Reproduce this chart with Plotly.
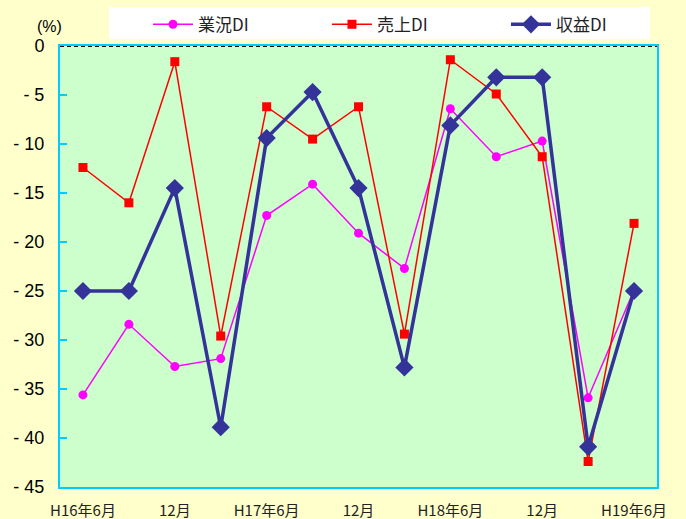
import plotly.graph_objects as go

# quarterly survey periods (H16.6 - H19.6)
periods = ["H16.6", "H16.9", "H16.12", "H17.3", "H17.6", "H17.9", "H17.12",
           "H18.3", "H18.6", "H18.9", "H18.12", "H19.3", "H19.6"]
period_labels = ["H16年6月", "", "12月", "", "H17年6月", "", "12月",
                 "", "H18年6月", "", "12月", "", "H19年6月"]

gyokyo_di = [-35.6, -28.4, -32.7, -31.9, -17.3, -14.1, -19.1,
             -22.7, -6.4, -11.3, -9.7, -35.9, -24.9]
uriage_di = [-12.4, -16.0, -1.6, -29.6, -6.2, -9.5, -6.2,
             -29.4, -1.4, -4.9, -11.3, -42.4, -18.1]
shueki_di = [-25.0, -25.0, -14.5, -38.9, -9.4, -4.7, -14.5,
             -32.8, -8.1, -3.2, -3.2, -40.9, -25.0]

y_ticks = [0, -5, -10, -15, -20, -25, -30, -35, -40, -45]
y_labels = ["0" if v == 0 else f"- {abs(v)}" for v in y_ticks]

axis_color = "#00CCFF"
jp_font = "Noto Sans CJK JP"

fig = go.Figure()

fig.add_trace(go.Scatter(
    x=periods, y=gyokyo_di, name="業況DI", mode="lines+markers",
    line=dict(color="#FF00FF", width=1.5),
    marker=dict(symbol="circle", size=9, color="#FF00FF"),
))
fig.add_trace(go.Scatter(
    x=periods, y=uriage_di, name="売上DI", mode="lines+markers",
    line=dict(color="#FF0000", width=1.5),
    marker=dict(symbol="square", size=9, color="#FF0000"),
))
fig.add_trace(go.Scatter(
    x=periods, y=shueki_di, name="収益DI", mode="lines+markers",
    line=dict(color="#333399", width=3.5),
    marker=dict(symbol="diamond", size=14, color="#333399"),
))

# dashed zero line on top edge
fig.add_shape(type="line", xref="paper", yref="y", x0=0, x1=1, y0=0, y1=0,
              line=dict(color="black", width=2, dash="4px,3px"))

# white box behind the legend
fig.add_shape(type="rect", xref="paper", yref="paper",
              x0=0.0821, x1=0.9883, y0=1.0159, y1=1.0884,
              fillcolor="white", line=dict(width=0))

fig.add_annotation(text="(%)", xref="paper", yref="paper", x=-0.017, y=1.045,
                   xanchor="center", yanchor="middle", showarrow=False,
                   font=dict(family="Liberation Sans", size=16, color="black"))

fig.update_layout(
    width=686, height=519,
    paper_bgcolor="#FFFFCC",
    plot_bgcolor="#CCFFCC",
    margin=dict(l=60, r=29, t=46, b=32, autoexpand=False),
    font=dict(family=jp_font, color="black"),
    legend=dict(
        orientation="h", x=0.2157, y=0.987, xref="container", yref="container",
        xanchor="left", yanchor="top",
        bgcolor="rgba(0,0,0,0)", font=dict(family=jp_font, size=17, color="#222222"),
        itemwidth=40, entrywidth=124,
    ),
    xaxis=dict(
        type="category", range=[-0.5, 12.5], automargin=False,
        tickmode="array", tickvals=periods, ticktext=period_labels,
        tickfont=dict(family=jp_font, size=15, color="#222222"),
        ticklabelstandoff=9,
        showgrid=False, zeroline=False,
        showline=True, linecolor=axis_color, linewidth=2, mirror=True,
        ticks="",
    ),
    yaxis=dict(
        range=[-45, 0], automargin=False, tickmode="array", tickvals=y_ticks,
        ticktext=y_labels, ticklabelstandoff=10,
        tickfont=dict(family="Liberation Sans", size=18),
        showgrid=False, zeroline=False,
        showline=True, linecolor=axis_color, linewidth=2, mirror=True,
        ticks="inside", ticklen=7, tickcolor=axis_color, tickwidth=1.5,
    ),
)

fig.write_html("out.html", config={"displayModeBar": False},
               post_script="document.body.style.margin = '0';")
